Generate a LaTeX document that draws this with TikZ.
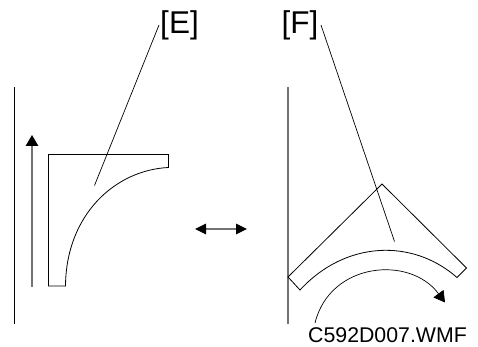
\documentclass[tikz,border=0pt]{standalone}
\usepackage{fontspec}
\setmainfont{Liberation Sans}
\usetikzlibrary{arrows.meta}
\tikzset{
  outline/.style={draw=black,line width=0.8pt,line join=miter},
  leader/.style={draw=black,line width=0.7pt},
  grayline/.style={draw=black!55,line width=1.1pt},
  bigtip/.style={-{Triangle[length=11pt,width=12.5pt,fill=black,color=black]}},
  bothtip/.style={{Triangle[length=11pt,width=10.5pt,fill=black,color=black]}-{Triangle[length=11pt,width=10.5pt,fill=black,color=black]}},
  bigtext/.style={inner sep=0pt,font=\fontsize{31.5}{32}\selectfont},
  smalltext/.style={inner sep=0pt,font=\fontsize{21.3}{22}\selectfont}
}
\begin{document}
\begin{tikzpicture}[x=1pt,y=-1pt]
\useasboundingbox (0,0) rectangle (478,347);
\node[bigtext] (E) at (179.5,25) {[E]};
\node[bigtext] (F) at (300,25) {[F]};
\node[smalltext] (code) at (387.5,335) {C592D007.WMF};
% left
\coordinate (wallLa) at (14.5,87);
\coordinate (wallLb) at (14.5,323.5);
\draw[outline] (wallLa) -- (wallLb);
\coordinate (upA) at (32,286.5);
\coordinate (upB) at (32,135);
\draw[grayline,bigtip] (upA) -- (upB);
\draw[outline] (48.5,154.5) -- (168.5,154.5) -- (168.5,167.5)
  .. controls (115,170) and (66,215) .. (65.5,286) -- (48.5,286) -- cycle;
\coordinate (Eend) at (94.5,185.5);
\coordinate (Estart) at (159,25);
\draw[leader] (Estart) -- (Eend);
% centre
\coordinate (midL) at (195,229);
\coordinate (midR) at (247,229);
\draw[grayline,bothtip] (midL) -- (midR);
% right
\coordinate (wallRa) at (288,87);
\coordinate (wallRb) at (288,323.5);
\draw[grayline] (wallRa) -- (wallRb);
\draw[outline] (288,277) -- (382,184) -- (466.5,268) -- (457,277.5)
  .. controls (412,238) and (345,241) .. (300,290) -- cycle;
\coordinate (Fstart) at (321,25);
\coordinate (Fend) at (394.5,241.5);
\draw[leader] (Fstart) -- (Fend);
\coordinate (swA) at (315,323);
\coordinate (swB) at (445,302.5);
\draw[leader,bigtip] (swA) .. controls (330,262) and (410,255) .. (swB);
\end{tikzpicture}
\end{document}
